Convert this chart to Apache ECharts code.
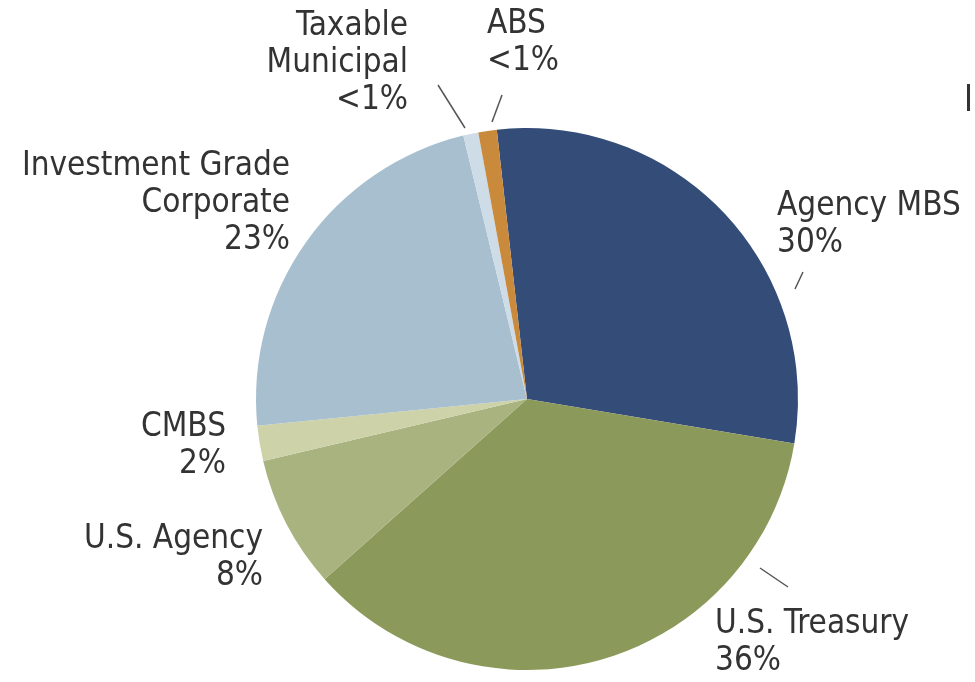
<!DOCTYPE html>
<html>
<head>
<meta charset="utf-8">
<script src="https://cdn.jsdelivr.net/npm/echarts@6/dist/echarts.min.js"></script>
<style>
  html, body { margin: 0; padding: 0; background: #fff; }
  #chart { width: 975px; height: 682px; }
</style>
</head>
<body>
<div id="chart"></div>
<script>
// data, clockwise from the top
const categories = ['Agency MBS', 'U.S. Treasury', 'U.S. Agency', 'CMBS',
  'Investment Grade\nCorporate', 'Taxable\nMunicipal', 'ABS']
const shares = [29.4, 35.8, 7.9, 2.1, 22.8, 0.9, 1.1]
const shareLabels = ['30%', '36%', '8%', '2%', '23%', '<1%', '<1%']
const colors = ['#344c78', '#8b995a', '#a9b37f', '#cdd2a8', '#a8bfcf', '#cddce6', '#c98a3c']

// where each label sits (x, y of top corner, alignment)
const labelSpots = [
  { x: 777, y: 188, align: 'left' },
  { x: 715, y: 606, align: 'left' },
  { x: 263, y: 521, align: 'right' },
  { x: 226, y: 409, align: 'right' },
  { x: 290, y: 148, align: 'right' },
  { x: 408, y: 8, align: 'right' },
  { x: 487, y: 6, align: 'left' }
]

const chart = echarts.init(document.getElementById('chart'))

const ticks = [
  [438, 85, 465, 128],
  [502, 95, 492, 122],
  [803, 272, 795, 289],
  [760, 568, 788, 587]
]

chart.setOption({
  animation: false,
  color: colors,
  graphic: ticks.map(t => ({
    type: 'line',
    shape: { x1: t[0], y1: t[1], x2: t[2], y2: t[3] },
    style: { stroke: '#555', lineWidth: 1.5 }
  })).concat([{
    type: 'rect',
    shape: { x: 967, y: 84, width: 3, height: 27 },
    style: { fill: '#333' }
  }]),
  series: [
    {
      type: 'pie',
      center: [527, 399],
      radius: 271,
      startAngle: 96.4,
      clockwise: true,
      avoidLabelOverlap: false,
      itemStyle: { borderWidth: 0 },
      label: {
        show: true,
        position: 'outside',
        fontFamily: 'DejaVu Sans Condensed',
        fontSize: 33,
        lineHeight: 37,
        color: '#333',
        formatter: p => p.name + '\n' + shareLabels[p.dataIndex]
      },
      labelLine: { show: false },
      labelLayout: p => {
        const s = labelSpots[p.dataIndex]
        return { x: s.x, y: s.y, align: s.align, verticalAlign: 'top' }
      },
      emphasis: { disabled: true },
      data: categories.map((c, i) => ({ name: c, value: shares[i] }))
    }
  ]
})
</script>
</body>
</html>
